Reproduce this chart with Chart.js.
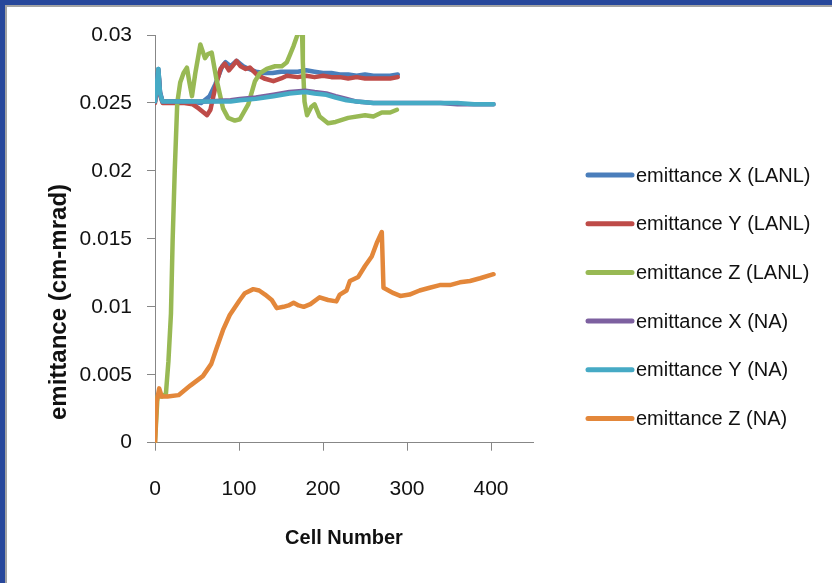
<!DOCTYPE html>
<html>
<head>
<meta charset="utf-8">
<script src="https://cdn.jsdelivr.net/npm/chart.js@4.4.1/dist/chart.umd.min.js"></script>
<style>
  html, body { margin: 0; padding: 0; width: 832px; height: 583px; overflow: hidden; background: #fff; }
  #frame { position: absolute; left: 0; top: 0; width: 832px; height: 583px; background: #27479b; }
  #sheet { position: absolute; left: 5px; top: 5px; right: 0; bottom: 0; background: #fff;
           border-left: 2px solid #a3a3a3; border-top: 2px solid #a3a3a3; }
  #mychartCanvas { position: absolute; left: 0; top: 0; }
</style>
</head>
<body>
<div id="frame"><div id="sheet"></div></div>
<canvas id="mychartCanvas" width="832" height="583"></canvas>
<script>
// values (cell number / emittance in cm-mrad)
var seriesNames = ["emittance X (LANL)", "emittance Y (LANL)", "emittance Z (LANL)",
                   "emittance X (NA)", "emittance Y (NA)", "emittance Z (NA)"];
var seriesColors = ["#4a7ebb", "#be4b48", "#98b954", "#7d60a0", "#46aac5", "#e3873a"];

var cellsXL = [0, 2, 4, 6, 9, 20, 40, 55, 65, 72, 80, 84, 90, 97, 105, 112, 120, 130, 140, 150, 160, 170, 180, 190, 200, 210, 220, 230, 240, 250, 260, 270, 280, 289];
var emitXL = [0.0251, 0.0262, 0.0275, 0.0258, 0.0251, 0.0251, 0.0251, 0.0250, 0.0255, 0.0264, 0.0277, 0.0280, 0.0277, 0.0281, 0.0277, 0.0275, 0.0273, 0.0272, 0.0272, 0.0273, 0.0273, 0.0273, 0.0274, 0.0273, 0.0272, 0.0272, 0.0271, 0.0271, 0.0270, 0.0271, 0.0270, 0.0270, 0.0270, 0.0271];

var cellsYL = [0, 2, 4, 6, 9, 20, 35, 45, 52, 58, 62, 66, 72, 78, 83, 88, 92, 97, 102, 108, 113, 121, 130, 141, 150, 157, 170, 180, 190, 200, 210, 220, 230, 240, 250, 260, 270, 280, 289];
var emitYL = [0.0250, 0.0262, 0.0273, 0.0256, 0.0250, 0.0250, 0.0250, 0.0249, 0.0246, 0.0243, 0.0241, 0.0245, 0.0262, 0.0275, 0.0279, 0.0274, 0.0277, 0.0281, 0.0277, 0.0275, 0.0276, 0.0271, 0.0268, 0.0266, 0.0268, 0.0270, 0.0269, 0.0270, 0.0269, 0.0270, 0.0269, 0.0269, 0.0268, 0.0269, 0.0268, 0.0268, 0.0268, 0.0268, 0.0269];

var cellsZL = [0, 3, 8, 13, 16, 19, 21, 23.5, 26.5, 30, 34, 38, 41, 44, 48, 54, 59.5, 63, 67.5, 73, 81, 87, 95, 101, 111, 119, 125, 133, 143, 151, 157, 161, 165, 169, 172, 175, 176, 178, 181, 186, 190, 196, 206, 215, 230, 250, 260, 270, 280, 288];
var emitZL = [0, 0.0034, 0.0034, 0.0036, 0.0060, 0.0095, 0.0149, 0.0200, 0.0250, 0.0265, 0.0272, 0.0276, 0.0265, 0.0255, 0.0272, 0.0293, 0.0283, 0.0286, 0.0287, 0.0268, 0.0246, 0.0239, 0.0237, 0.0238, 0.0249, 0.0266, 0.0272, 0.0275, 0.0277, 0.0277, 0.0280, 0.0286, 0.0292, 0.0299, 0.0303, 0.0303, 0.0280, 0.0251, 0.0241, 0.0247, 0.0249, 0.0240, 0.0235, 0.0236, 0.0239, 0.0241, 0.0240, 0.0243, 0.0243, 0.0245];

var cellsXN = [0, 2, 4, 6, 9, 30, 60, 90, 101, 120, 141, 160, 179, 190, 204, 215, 228, 240, 260, 280, 300, 320, 340, 360, 380, 403];
var emitXN = [0.0251, 0.0263, 0.0274, 0.0257, 0.0251, 0.0251, 0.0251, 0.0252, 0.0253, 0.0254, 0.0256, 0.0258, 0.0259, 0.0258, 0.0257, 0.0255, 0.0253, 0.0251, 0.0250, 0.0250, 0.0250, 0.0250, 0.0250, 0.0249, 0.0249, 0.0249];

var cellsYN = [0, 2, 4, 6, 9, 30, 60, 90, 101, 120, 141, 160, 179, 190, 204, 215, 228, 240, 260, 280, 300, 320, 340, 360, 380, 403];
var emitYN = [0.0251, 0.0263, 0.0275, 0.0257, 0.0251, 0.0251, 0.0251, 0.0251, 0.0252, 0.0253, 0.0255, 0.0257, 0.0258, 0.0257, 0.0256, 0.0254, 0.0252, 0.0251, 0.0250, 0.0250, 0.0250, 0.0250, 0.0250, 0.0250, 0.0249, 0.0249];

var cellsZN = [0, 2, 5, 8, 15, 28, 42, 57, 67, 73, 81, 89, 101, 107, 117, 124, 131, 139, 145, 153, 159, 165, 171, 177, 185, 196, 206, 216, 220, 228, 232, 242, 250, 258, 264, 270, 272, 284, 292, 303, 315, 327, 339, 351, 363, 375, 387, 403];
var emitZN = [0, 0.0030, 0.0040, 0.0034, 0.0034, 0.0035, 0.0042, 0.0049, 0.0058, 0.0069, 0.0083, 0.0094, 0.0105, 0.0110, 0.0113, 0.0112, 0.0109, 0.0105, 0.0099, 0.0100, 0.0101, 0.0103, 0.0101, 0.0100, 0.0102, 0.0107, 0.0105, 0.0104, 0.0109, 0.0112, 0.0119, 0.0122, 0.0130, 0.0137, 0.0147, 0.0155, 0.0114, 0.0110, 0.0108, 0.0109, 0.0112, 0.0114, 0.0116, 0.0116, 0.0118, 0.0119, 0.0121, 0.0124];

var xTickValues = [0, 100, 200, 300, 400];
var yTickValues = [0, 0.005, 0.01, 0.015, 0.02, 0.025, 0.03];

var allCells = [cellsXL, cellsYL, cellsZL, cellsXN, cellsYN, cellsZN];
var allEmit = [emitXL, emitYL, emitZL, emitXN, emitYN, emitZN];

var fontFamily = "'Liberation Sans', Arial, sans-serif";

function pairs(xs, ys) {
  var out = [];
  for (var i = 0; i < xs.length; i++) {
    out.push({ x: xs[i], y: ys[i] });
  }
  return out;
}

var datasets = [];
for (var s = 0; s < seriesNames.length; s++) {
  datasets.push({
    label: seriesNames[s],
    data: pairs(allCells[s], allEmit[s]),
    borderColor: seriesColors[s],
    backgroundColor: seriesColors[s],
    borderWidth: 4.5,
    pointRadius: 0,
    tension: 0,
    fill: false,
    borderJoinStyle: "round",
    borderCapStyle: "round",
    order: seriesNames.length - s
  });
}

// legend at the right and the rotated y title, drawn by hand
var sideLabels = {
  id: "sideLabels",
  afterDraw: function (chart) {
    var ctx = chart.ctx;
    ctx.save();
    ctx.font = "20px " + fontFamily;
    ctx.textBaseline = "middle";
    ctx.textAlign = "left";
    ctx.lineCap = "round";
    ctx.lineWidth = 5;
    chart.data.datasets.forEach(function (ds, i) {
      var y = 175 + i * 48.7;
      ctx.strokeStyle = ds.borderColor;
      ctx.beginPath();
      ctx.moveTo(588, y);
      ctx.lineTo(632, y);
      ctx.stroke();
      ctx.fillStyle = "#111";
      ctx.fillText(ds.label, 636, y + 1);
    });

    ctx.translate(59, 302);
    ctx.rotate(-Math.PI / 2);
    ctx.textAlign = "center";
    ctx.font = "bold 24px " + fontFamily;
    ctx.fillText("emittance (cm-mrad)", 0, 0);
    ctx.restore();
  }
};

var ctx = document.getElementById("mychartCanvas");

var chart = new Chart(ctx, {
  type: "line",
  data: { datasets: datasets },
  plugins: [sideLabels],
  options: {
    responsive: false,
    animation: false,
    devicePixelRatio: 1,
    layout: { padding: { left: 0, top: 35, right: 299, bottom: 0 } },
    plugins: {
      legend: { display: false },
      tooltip: { enabled: false }
    },
    scales: {
      x: {
        type: "linear",
        min: 0,
        max: 450,
        afterBuildTicks: function (scale) {
          scale.ticks = xTickValues.map(function (v) { return { value: v }; });
        },
        afterFit: function (scale) { scale.height = 140.3; },
        grid: { drawOnChartArea: false, drawTicks: true, tickLength: 8, color: "#878787" },
        border: { display: true, color: "#878787", width: 1 },
        ticks: {
          padding: 26,
          color: "#111",
          maxRotation: 0,
          font: { family: fontFamily, size: 21 },
          callback: function (v) { return String(v); }
        },
        title: {
          display: true,
          text: "Cell Number",
          color: "#111",
          font: { family: fontFamily, size: 20, weight: "bold" },
          padding: { top: 0, bottom: 33 }
        }
      },
      y: {
        min: 0,
        max: 0.03,
        afterBuildTicks: function (scale) {
          scale.ticks = yTickValues.map(function (v) { return { value: v }; });
        },
        afterFit: function (scale) { scale.width = 155; },
        grid: { drawOnChartArea: false, drawTicks: true, tickLength: 8, color: "#878787" },
        border: { display: true, color: "#878787", width: 1 },
        ticks: {
          padding: 15,
          color: "#111",
          font: { family: fontFamily, size: 21 },
          callback: function (v) { return String(Number(v.toFixed(3))); }
        }
      }
    }
  }
});
</script>
</body>
</html>
